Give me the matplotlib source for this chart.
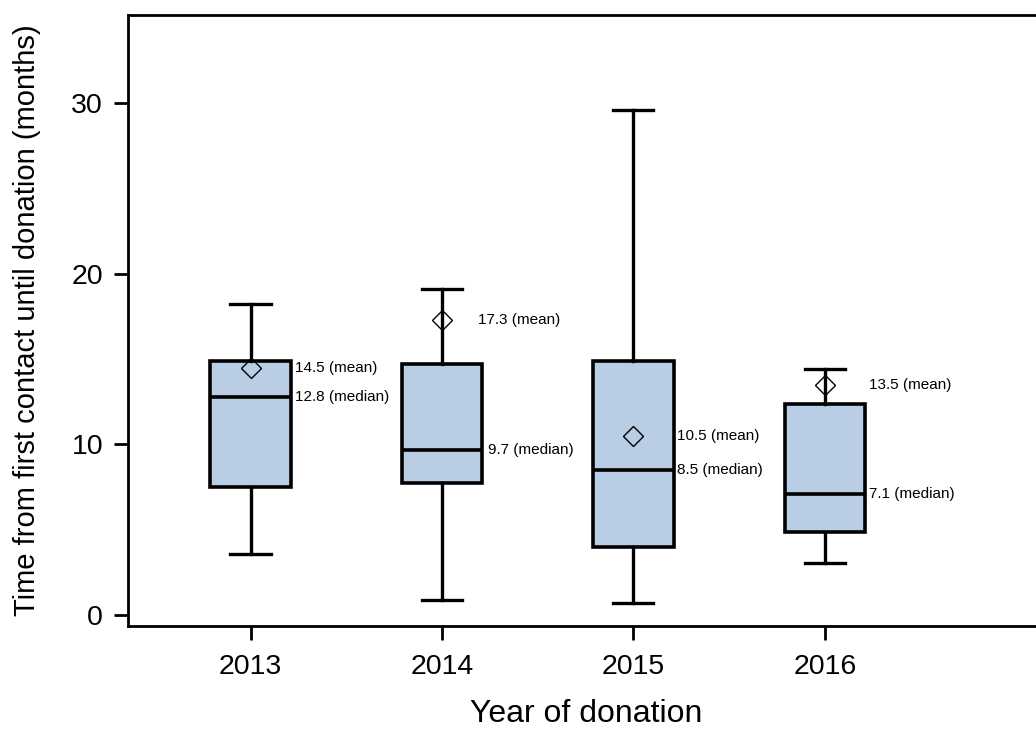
import matplotlib
matplotlib.use("Agg")
import matplotlib.pyplot as plt

# valores
anos = ["2013", "2014", "2015", "2016"]
minimo = [3.6, 0.9, 0.7, 3.05]
q1 = [7.5, 7.75, 4.0, 4.85]
mediana = [12.8, 9.7, 8.5, 7.1]
q3 = [14.9, 14.7, 14.9, 12.4]
maximo = [18.25, 19.1, 29.6, 14.4]
media = [14.5, 17.3, 10.5, 13.5]

plt.rcParams['font.family'] = ['Liberation Sans', 'DejaVu Sans']

fig = plt.figure(figsize=(10.36, 7.32), dpi=100)
ax = fig.add_axes([0.1236, 0.1448, 0.885, 0.835])

stats = []
for i in range(len(anos)):
    stats.append({
        "whislo": minimo[i], "q1": q1[i], "med": mediana[i],
        "q3": q3[i], "whishi": maximo[i], "mean": media[i], "label": anos[i],
    })

posicoes = list(range(len(anos)))
cor_caixa = "#b9cde5"
ax.bxp(stats, positions=posicoes, widths=0.42, patch_artist=True, showmeans=True,
       showfliers=False,
       boxprops=dict(facecolor=cor_caixa, edgecolor="black", linewidth=2.6),
       medianprops=dict(color="black", linewidth=2.6),
       whiskerprops=dict(color="black", linewidth=2.4),
       capprops=dict(color="black", linewidth=2.4),
       meanprops=dict(marker="D", markerfacecolor="none", markeredgecolor="black",
                      markersize=10, markeredgewidth=1.0))

# rotulos de media e mediana
desloc_media = [0.23, 0.19, 0.23, 0.23]
desloc_mediana = [0.23, 0.24, 0.23, 0.23]
for i in posicoes:
    ax.text(i + desloc_media[i], media[i], f"{media[i]} (mean)", fontsize=11,
            va="center", ha="left")
    ax.text(i + desloc_mediana[i], mediana[i], f"{mediana[i]} (median)", fontsize=11,
            va="center", ha="left")

ax.set_xlim(-0.64, 4.15)
ax.set_ylim(-0.65, 35.2)
ax.set_yticks([0, 10, 20, 30])
ax.set_xticks(posicoes)
ax.set_xticklabels(anos)
ax.tick_params(axis="both", direction="out", length=10, width=2, labelsize=20.5)
ax.tick_params(axis="x", pad=10)
ax.tick_params(axis="y", pad=8)
for s in ax.spines.values():
    s.set_linewidth(2)

ax.set_xlabel("Year of donation", fontsize=23, labelpad=14)
ax.set_ylabel("Time from first contact until donation (months)", fontsize=21, labelpad=22)

fig.savefig("out.png", dpi=100)
